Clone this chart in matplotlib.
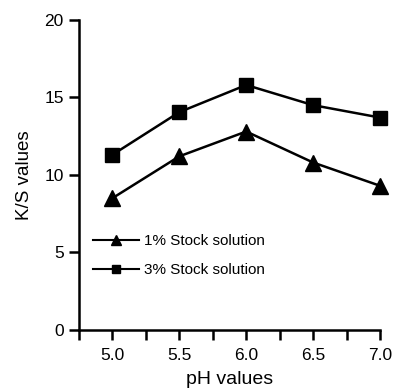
import matplotlib
matplotlib.use("Agg")
import matplotlib.pyplot as plt
from matplotlib.ticker import MultipleLocator
from matplotlib.lines import Line2D

plt.rcParams['font.family'] = ['Liberation Sans', 'DejaVu Sans']

ph = [5.0, 5.5, 6.0, 6.5, 7.0]
ks_1pct = [8.5, 11.2, 12.8, 10.8, 9.3]
ks_3pct = [11.3, 14.05, 15.8, 14.5, 13.7]
labels = ["1% Stock solution", "3% Stock solution"]

fig = plt.figure(figsize=(3.95, 3.9), dpi=100)
ax = fig.add_axes([0.2, 0.154, 0.762, 0.795])

ax.plot(ph, ks_1pct, color='black', lw=1.8, marker='^', markersize=11, clip_on=False)
ax.plot(ph, ks_3pct, color='black', lw=1.8, marker='s', markersize=10.5, clip_on=False)

ax.set_xlim(4.75, 7.0)
ax.set_ylim(0, 20)
ax.set_yticks([0, 5, 10, 15, 20])
ax.xaxis.set_minor_locator(MultipleLocator(0.25))
ax.set_xticks([5.0, 5.5, 6.0, 6.5, 7.0])
ax.set_xticklabels(["5.0", "5.5", "6.0", "6.5", "7.0"])
for s in ['top', 'right']:
    ax.spines[s].set_visible(False)
for s in ['left', 'bottom']:
    ax.spines[s].set_linewidth(1.8)
ax.tick_params(axis='both', which='both', direction='out', length=7, width=1.8, labelsize=12.5, pad=4)
ax.tick_params(axis='x', which='minor', length=7, width=1.8)
ax.tick_params(axis='x', which='major', pad=6)

ax.set_xlabel("pH values", fontsize=14, labelpad=6)
ax.set_ylabel("K/S values", fontsize=13.5, labelpad=8)

h1 = Line2D([], [], color='black', lw=1.5, marker='^', markersize=7)
h2 = Line2D([], [], color='black', lw=1.5, marker='s', markersize=6)
ax.legend([h1, h2], labels, loc='lower left', bbox_to_anchor=(0.0, 0.125), frameon=False,
          fontsize=11, handlelength=3.0, handletextpad=0.35, labelspacing=1.0)

fig.savefig("out.png", dpi=100)
